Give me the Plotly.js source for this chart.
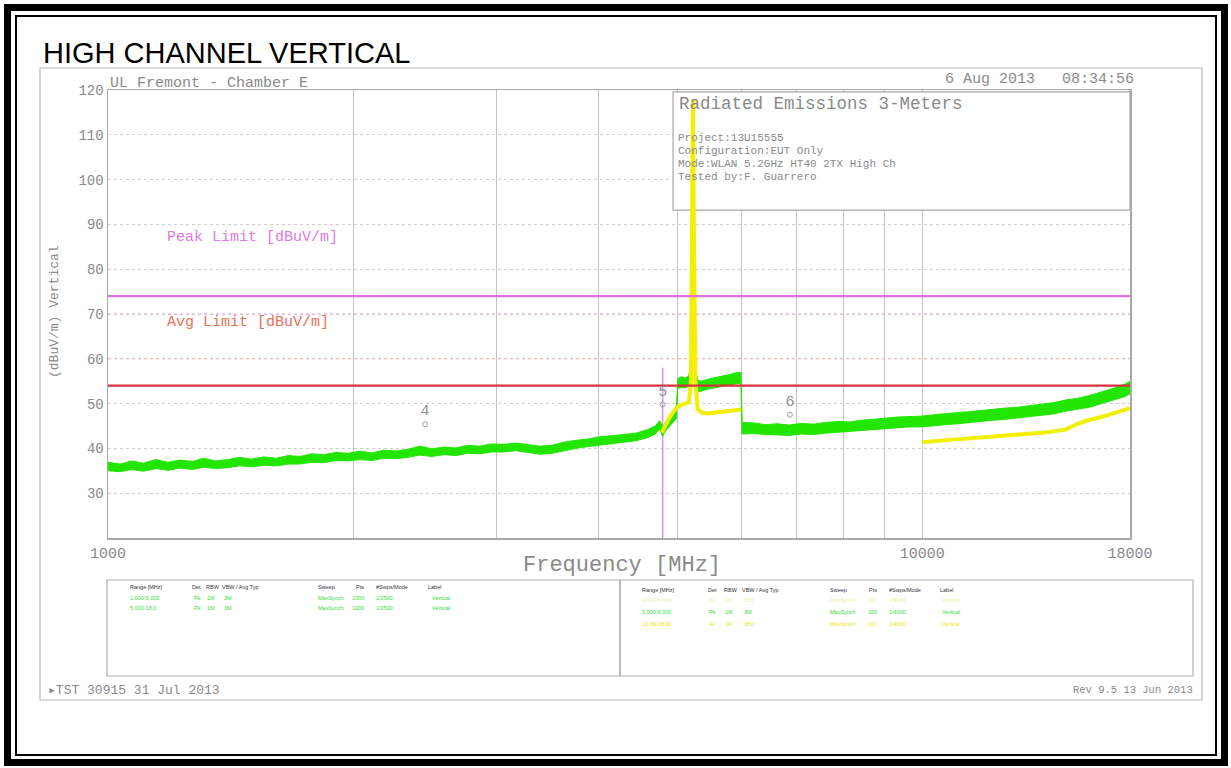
<!DOCTYPE html>
<html><head><meta charset="utf-8">
<script src="https://cdn.plot.ly/plotly-3.0.1.min.js"></script>
<style>html,body{margin:0;padding:0;background:#fff;overflow:hidden}#chart{width:1231px;height:768px}</style>
</head><body><div id="chart"></div>
<script>
// ---------------- data ----------------
const freqGreen = [1000,1035,1070,1105,1145,1185,1225,1270,1310,1355,1405,1450,1500,1555,1610,1665,1720,1780,1840,1905,1970,2040,2110,2180,2260,2335,2415,2500,2585,2675,2765,2860,2960,3065,3170,3280,3390,3510,3630,3755,3885,4020,4160,4300,4450,4600,4700,4760,4800,4840,4900,4960,4990,5010,5060,5120,5170,5200,5215,5230,5245,5265,5300,5360,5440,5520,5600,5700,5800,5900,5990,6010,6200,6420,6640,6870,7110,7355,7610,7870,8145,8425,8715,9015,9330,9650,9985,10330,10685,11055,11435,11830,12240,12660,13100,13550,14015,14500,15000,15520,16055,16610,17180,17770,18000];
const greenHigh = [36.9,36.5,37.2,36.7,37.5,36.9,37.4,37.1,37.8,37.2,37.5,38.0,37.6,38.1,37.8,38.4,38.2,38.8,38.6,39.1,38.9,39.4,39.0,39.6,39.4,39.8,40.5,39.9,40.3,40.1,40.7,40.5,41.0,40.9,41.2,40.9,40.5,40.7,41.4,41.8,42.1,42.6,42.8,43.1,43.4,44.2,45.0,46.2,44.8,45.9,47.0,48.0,48.6,55.6,56.0,55.7,56.2,60.0,80.0,111.0,80.0,58.0,55.2,55.0,55.4,55.6,55.9,56.2,56.5,56.9,57.0,45.8,45.7,45.3,45.5,45.2,45.6,45.4,45.8,46.0,45.9,46.3,46.5,46.8,47.0,47.1,47.2,47.5,47.8,48.0,48.2,48.5,48.7,49.0,49.2,49.5,49.8,50.2,50.8,51.2,51.8,52.6,53.4,54.4,55.0];
const greenLow  = [35.0,34.8,35.3,34.9,35.5,35.1,35.6,35.3,35.8,35.5,35.7,36.1,35.9,36.2,36.1,36.5,36.5,36.9,36.8,37.3,37.2,37.5,37.3,37.8,37.7,38.0,38.5,38.2,38.6,38.4,38.9,38.8,39.2,39.2,39.5,39.1,38.7,38.9,39.5,40.0,40.4,40.7,41.1,41.4,41.7,42.4,43.2,44.3,42.7,43.9,45.0,46.0,46.7,53.4,53.6,53.5,54.0,56.0,70.0,100.0,70.0,54.0,52.6,52.8,53.2,53.4,53.6,53.9,54.2,54.4,54.6,43.2,43.3,43.1,43.0,42.9,43.2,43.1,43.4,43.6,43.7,43.9,44.1,44.4,44.6,44.8,44.8,45.1,45.3,45.5,45.8,46.0,46.3,46.5,46.8,47.0,47.3,47.7,48.3,48.7,49.2,50.0,50.8,51.6,52.2];
const freqYellow = [4790,4830,4880,4940,4990,5050,5120,5170,5200,5215,5230,5245,5265,5300,5360,5450,5550,5650,5750,5850,5950,5995,null,10000,10330,10685,11055,11435,11830,12240,12660,13100,13550,14015,14500,15000,15520,16055,16610,17180,17770,18000];
const yellowAvg  = [43.5,45.0,46.5,48.0,49.0,49.6,50.0,50.3,55.0,85.0,118.0,85.0,55.0,48.8,48.0,47.8,48.0,48.1,48.3,48.4,48.6,48.7,null,41.4,41.6,41.8,41.9,42.1,42.3,42.5,42.7,42.9,43.2,43.5,43.8,44.2,45.5,46.4,47.0,47.8,48.8,49.0];
const limitFreqs = [1000,18000];
const peakLimit = 74;
const avgLimit = 54;
const markerFreqs = [2452,4800,6880];
const markerLabels = ["4","5","6"];
const markerTextLevels = [48.3,52.6,50.3];
const markerSymbolLevels = [45.4,49.8,47.5];
const marker5Line = [20,58];
const infoBoxFreqs = [4943,18000];
const infoBoxLevels = [93.2,119.6];
const xTickVals = [1000,2000,3000,4000,5000,6000,7000,8000,9000,10000,18000];
const xTickText = ["1000","","","","","","","","","10000","18000"];
const yTickVals = [30,40,50,60,70,80,90,100,110,120];
const yTickText = ["30","40","50","60","70","80","90","100","110","120"];

// ---------------- helpers (layout only) ----------------
const L=108,R=1130,T=90,B=538;
const X=px=>(px-L)/(R-L);
const Y=py=>(B-py)/(B-T);
const MONO='"Liberation Mono", "DejaVu Sans Mono", monospace';
const GREY='#8a8a8a';
const anns=[];
function txt(t,x,y,size,color,xa,ya,fam,angle){
  anns.push({text:t,x:X(x),y:Y(y),xref:'paper',yref:'paper',showarrow:false,
    xanchor:xa||'left',yanchor:ya||'middle',textangle:angle||0,
    font:{family:fam||MONO,size:size,color:color||GREY}});
}
const shapes=[];
function rect(x0,y0,x1,y1,color,w){
  shapes.push({type:'rect',xref:'paper',yref:'paper',x0:X(x0),x1:X(x1),y0:Y(y0),y1:Y(y1),
    line:{color:color,width:w},layer:'above'});
}

// frame
rect(7.5,7.5,1224.5,762.5,'#000',7);
rect(16,16,1216,755,'#000',2);
rect(40,68,1202,700,'#b8b8b8',1.2);
// bottom tables
rect(107,580,620,676,'#b0b0b0',1.2);
rect(620,580,1193,676,'#b0b0b0',1.2);
// info box: covers the grid but lies under the traces
shapes.push({type:'rect',xref:'x',yref:'y',x0:infoBoxFreqs[0],x1:infoBoxFreqs[1],y0:infoBoxLevels[0],y1:infoBoxLevels[1],
  fillcolor:'#fff',line:{color:'#a8a8a8',width:1.2},layer:'between'});

// texts
txt('HIGH CHANNEL VERTICAL',41,53,29,'#000','left','middle','"Liberation Sans", Arial, sans-serif');
txt('UL Fremont - Chamber E',108,84,15,GREY,'left','middle');
txt('6 Aug 2013   08:34:56',1136,80,15,GREY,'right','middle');
txt('Radiated Emissions 3-Meters',677,104,17.5,GREY,'left','middle');
txt('Project:13U15555',676,138,11,GREY);
txt('Configuration:EUT Only',676,151,11,GREY);
txt('Mode:WLAN 5.2GHz HT40 2TX High Ch',676,164,11,GREY);
txt('Tested by:F. Guarrero',676,177,11,GREY);
txt('Peak Limit [dBuV/m]',165,237,15,'#e07ae0');
txt('Avg Limit [dBuV/m]',165,322,15,'#e8705a');
txt('(dBuV/m) Vertical',54,312,13,GREY,'center','middle',MONO,-90);
txt('Frequency [MHz]',622,565,22,GREY,'center','middle');
txt('\u25B8TST 30915 31 Jul 2013',46,690,13,GREY);
txt('Rev 9.5 13 Jun 2013',1195,690,10.5,GREY,'right');
// bottom table headers / rows
const SANS='"Liberation Sans Narrow","Liberation Sans",Arial,sans-serif';
const TS=5.5;
const hdrL=[['Range [MHz]',128],['Det',190],['RBW',204],['VBW / Avg Typ',220],['Sweep',316],['Pts',354],['#Swps/Mode',374],['Label',426]];
hdrL.forEach(h=>txt(h[0],h[1],587,TS,'#333','left','middle',SANS));
const hdrR=[['Range [MHz]',640],['Det',706],['RBW',722],['VBW / Avg Typ',740],['Sweep',828],['Pts',867],['#Swps/Mode',887],['Label',938]];
hdrR.forEach(h=>txt(h[0],h[1],590,TS,'#333','left','middle',SANS));
const G='#33dd33',YL='#e8e800';
const rowL1=[['1.000-5.000',128],['Pk',192],['1M',205],['3M',222],['MaxSynch',316],['1000',350],['1/2500',374],['Vertical',430]];
const rowL2=[['5.000-18.0',128],['Pk',192],['1M',205],['3M',222],['MaxSynch',316],['1000',350],['1/2500',374],['Vertical',430]];
const rowR1=[['4.800-6.000',640],['Av',707],['1M',723],['3Hz',742],['MaxSynch',828],['100',866],['1/4000',887],['Vertical',940]];
const rowR2=[['5.000-6.000',640],['Pk',707],['1M',723],['3M',742],['MaxSynch',828],['100',866],['1/4000',887],['Vertical',940]];
const rowR3=[['10.00-18.00',640],['Av',707],['1M',723],['3Hz',742],['MaxSynch',828],['100',866],['1/4000',887],['Vertical',940]];
rowL1.forEach(h=>txt(h[0],h[1],598,TS,G,'left','middle',SANS));
rowL2.forEach(h=>txt(h[0],h[1],608,TS,G,'left','middle',SANS));
rowR1.forEach(h=>txt(h[0],h[1],600,TS,'#f0f0a0','left','middle',SANS));
rowR2.forEach(h=>txt(h[0],h[1],612,TS,G,'left','middle',SANS));
rowR3.forEach(h=>txt(h[0],h[1],624,TS,YL,'left','middle',SANS));

// ---------------- traces ----------------
const traces=[
  {x:limitFreqs,y:[70,70],mode:'lines',line:{color:'#e8a8e8',width:1,dash:'dot'},hoverinfo:'skip'},
  {x:limitFreqs,y:[60,60],mode:'lines',line:{color:'#f0b0b0',width:1,dash:'dot'},hoverinfo:'skip'},
  {x:[markerFreqs[1],markerFreqs[1]],y:marker5Line,mode:'lines',line:{color:'#d690e6',width:1.5},hoverinfo:'skip'},
  {x:freqGreen,y:greenLow,mode:'lines',line:{color:'#22e600',width:1},hoverinfo:'skip'},
  {x:freqGreen,y:greenHigh,mode:'lines',line:{color:'#22e600',width:1},fill:'tonexty',fillcolor:'#22e600',hoverinfo:'skip'},
  {x:freqYellow,y:yellowAvg,mode:'lines',line:{color:'#f0f000',width:4},connectgaps:false,hoverinfo:'skip'},
  {x:limitFreqs,y:[peakLimit,peakLimit],mode:'lines',line:{color:'#e070e0',width:2.2},hoverinfo:'skip'},
  {x:limitFreqs,y:[avgLimit,avgLimit],mode:'lines',line:{color:'#d8303c',width:2.2},hoverinfo:'skip'},
  {x:markerFreqs,y:markerTextLevels,mode:'text',text:markerLabels,textfont:{family:MONO,size:15,color:'#909090'},hoverinfo:'skip'},
  {x:markerFreqs,y:markerSymbolLevels,mode:'markers',marker:{symbol:'circle-open',size:5,color:'#9aa89a',line:{width:1}},hoverinfo:'skip'}
];

const layout={
  width:1231,height:768,showlegend:false,
  paper_bgcolor:'#fff',plot_bgcolor:'#fff',
  margin:{l:L,r:1231-R,t:T,b:768-B,pad:0},
  xaxis:{type:'log',range:[3,Math.log10(18000)],tickmode:'array',tickvals:xTickVals,ticktext:xTickText,
    showgrid:true,gridcolor:'#c4c4c4',gridwidth:1,zeroline:false,ticks:'',
    showline:true,linecolor:'#a8a8a8',linewidth:1.5,mirror:true,
    tickfont:{family:MONO,size:15,color:GREY}},
  yaxis:{range:[20,120],tickmode:'array',tickvals:yTickVals,ticktext:yTickText,
    showgrid:true,gridcolor:'#cfcfcf',griddash:'dot',gridwidth:1,zeroline:false,ticks:'',
    showline:true,linecolor:'#a8a8a8',linewidth:1.5,mirror:true,
    tickfont:{family:MONO,size:14,color:GREY}},
  shapes:shapes,annotations:anns
};
Plotly.newPlot('chart',traces,layout,{staticPlot:true,displayModeBar:false});
</script></body></html>
